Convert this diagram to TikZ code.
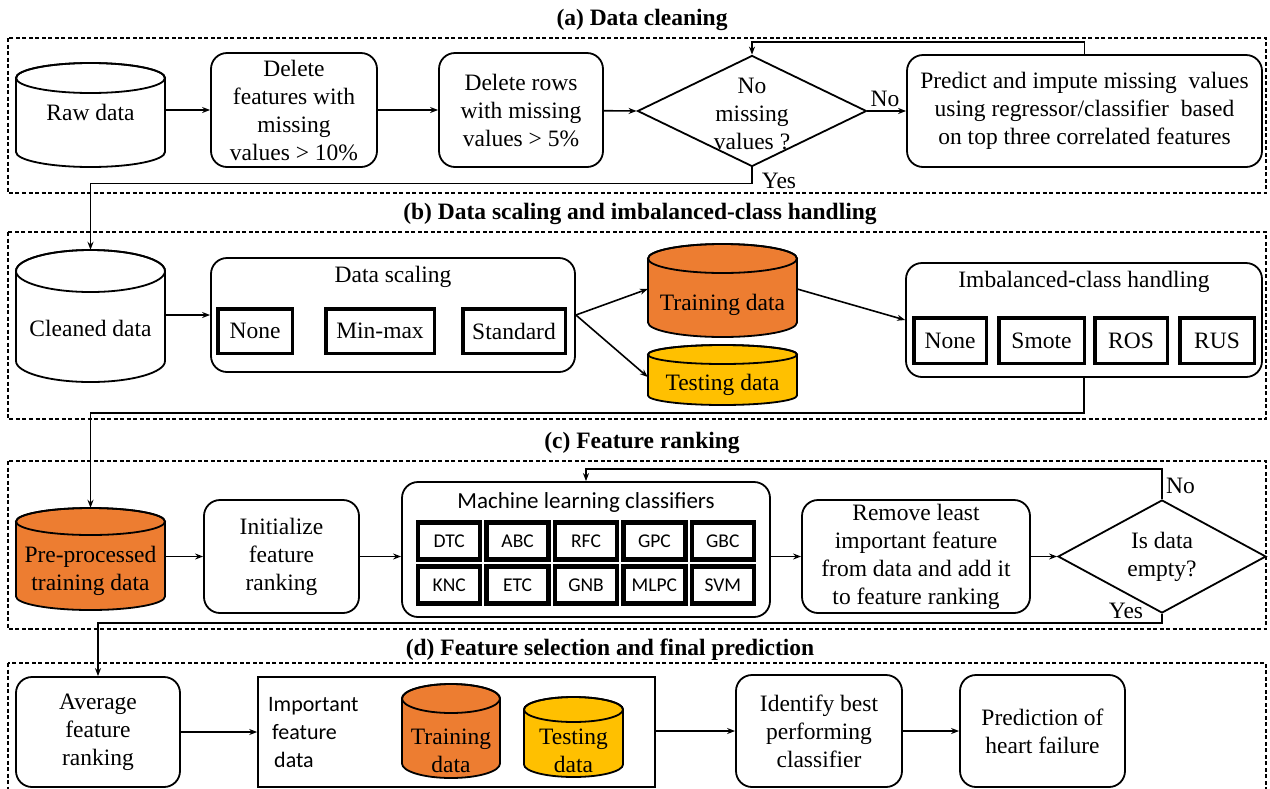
\documentclass[tikz,border=0pt]{standalone}
\usepackage{fontspec}
\setmainfont{Liberation Serif}
\newfontfamily\tnrfont{Liberation Serif}
\newfontfamily\calfont{Carlito}
\usetikzlibrary{shapes.geometric,arrows.meta,calc}
\newcommand\bodyfont{\tnrfont\fontsize{23.5}{28}\selectfont}
\newcommand\titlefont{\tnrfont\fontsize{23.5}{28}\selectfont\bfseries}
\newcommand\cellfont{\calfont\fontsize{19.5}{22}\selectfont}
\definecolor{trainor}{HTML}{ED7D31}
\definecolor{testyel}{HTML}{FFC000}
% name, x1, y1, x2, y2, ry, fill, text, text-y
\newcommand{\cyl}[9]{%
  \pgfmathsetmacro\cylrx{(#4-#2)/2}%
  \pgfmathsetmacro\cylcx{(#2+#4)/2}%
  \pgfmathsetmacro\cylta{#3+#6}%
  \pgfmathsetmacro\cylbb{#5-#6}%
  \filldraw[cylline, fill=#7] (#2,\cylta) -- (#2,\cylbb)
     arc[start angle=180, end angle=0, x radius=\cylrx, y radius=#6]
     -- (#4,\cylta)
     arc[start angle=0, end angle=-180, x radius=\cylrx, y radius=#6] -- cycle;
  \draw[cylline] (\cylcx,\cylta) ellipse[x radius=\cylrx, y radius=#6];
  \node[inner sep=0, minimum width=#4-#2, minimum height=#5-#3] (#1) at (\cylcx,{(#3+#5)/2}) {};
  \node[txt] (#1t) at (\cylcx,#9) {#8};
}
\begin{document}
\begin{tikzpicture}[x=1pt,y=-1pt,
  txt/.style={align=center, font=\bodyfont, inner sep=0},
  rbox/.style={draw, rounded corners=16, line width=1.8, align=center, inner sep=2, font=\bodyfont, fill=white},
  tbox/.style={draw, line width=3.5, align=center, inner sep=0, font=\bodyfont},
  cell/.style={draw, line width=4.5, inner sep=0, minimum width=62, minimum height=37, font=\cellfont},
  dia/.style={draw, diamond, line width=1.8, inner sep=0},
  frame/.style={draw, line width=1.1, dash pattern=on 4pt off 2.5pt},
  ttl/.style={font=\titlefont, inner sep=0},
  lbl/.style={font=\bodyfont, inner sep=0},
  cylline/.style={line width=1.8},
  arr/.style={line width=1.6, -{Stealth[length=8pt,width=6pt]}}
]
\useasboundingbox (0,0) rectangle (1270,788);

% ---------- section frames and titles ----------
\draw[frame] (8,38) rectangle (1266,193);
\draw[frame] (8,232) rectangle (1266,419);
\draw[frame] (8,461) rectangle (1266,629);
\draw[frame] (8,663) rectangle (1266,800);
\node[ttl] (tA) at (642,20) {(a) Data cleaning};
\node[ttl] (tB) at (640,214) {(b) Data scaling and imbalanced-class handling};
\node[ttl] (tC) at (642,443) {(c) Feature ranking};
\node[ttl] (tD) at (610,650) {(d) Feature selection and final prediction};

% ---------- (a) ----------
\cyl{raw}{16}{63}{165}{167}{15}{white}{Raw data}{112}
\node[rbox, minimum width=166, minimum height=114] (delfeat) at (294,110) {Delete\\features with\\missing\\values > 10\%};
\node[rbox, minimum width=164, minimum height=114] (delrows) at (521,110) {Delete rows\\with missing\\values > 5\%};
\node[dia, minimum width=229, minimum height=111] (dia1) at (752,111) {};
\node[txt] (dia1t) at (752,114) {No\\missing\\values ?};
\node[rbox, minimum width=355, minimum height=112] (predict) at (1084.5,111) {Predict and impute missing\ \ values\\using regressor/classifier\ \ based\\on top three correlated features};
\node[lbl] (noA) at (885,99) {No};
\node[lbl] (yesA) at (779,181) {Yes};

% ---------- (b) ----------
\cyl{clean}{16}{250}{165}{382}{21}{white}{Cleaned data}{328}
\node[rbox, minimum width=364, minimum height=114] (scaling) at (393,315) {};
\node[lbl, anchor=base] (scalingt) at (393,282) {Data scaling};
\node[tbox, minimum width=74.5, minimum height=44.5] (sNone) at (255,331) {None};
\node[tbox, minimum width=108.5, minimum height=44.5] (sMin) at (380,331) {Min-max};
\node[tbox, minimum width=102.5, minimum height=44.5] (sStd) at (514,331) {Standard};
\cyl{train}{648}{244}{797}{337}{14.5}{trainor}{Training data}{305}
\cyl{test}{648}{345}{797}{405}{9.5}{testyel}{Testing data}{385}
\node[rbox, minimum width=356, minimum height=114] (imb) at (1084,320) {};
\node[lbl, anchor=base] (imbt) at (1084,287) {Imbalanced-class handling};
\node[tbox, minimum width=72.5, minimum height=45.5] (iNone) at (950,340.5) {None};
\node[tbox, minimum width=85.5, minimum height=45.5] (iSmote) at (1041.5,340.5) {Smote};
\node[tbox, minimum width=72.5, minimum height=45.5] (iROS) at (1131,340.5) {ROS};
\node[tbox, minimum width=74.5, minimum height=45.5] (iRUS) at (1217,340.5) {RUS};

% ---------- (c) ----------
\cyl{pre}{16}{508}{165}{610}{13.5}{trainor}{Pre-processed\\training data}{571}
\node[rbox, minimum width=155, minimum height=113] (init) at (281.5,556.5) {Initialize\\feature\\ranking};
\node[rbox, minimum width=368, minimum height=135] (ml) at (586,549.5) {};
\node[anchor=base, inner sep=0, font=\calfont\fontsize{23}{27}\selectfont] (mlt) at (586,508) {Machine learning classifiers};
\node[cell] (c11) at (449.2,541) {DTC};
\node[cell] (c12) at (517.6,541) {ABC};
\node[cell] (c13) at (586,541) {RFC};
\node[cell] (c14) at (654.4,541) {GPC};
\node[cell] (c15) at (722.8,541) {GBC};
\node[cell] (c21) at (449.2,585) {KNC};
\node[cell] (c22) at (517.6,585) {ETC};
\node[cell] (c23) at (586,585) {GNB};
\node[cell] (c24) at (654.4,585) {MLPC};
\node[cell] (c25) at (722.8,585) {SVM};
\node[rbox, minimum width=228, minimum height=113] (remove) at (916,556.5) {Remove least\\important feature\\from data and add it\\to feature ranking};
\node[dia, minimum width=208, minimum height=113] (dia2) at (1162,556.5) {};
\node[txt] (dia2t) at (1162,557) {Is data\\empty?};
\node[lbl, anchor=west] (noC) at (1166,486) {No};
\node[lbl] (yesC) at (1126,611) {Yes};

% ---------- (d) ----------
\node[rbox, minimum width=164, minimum height=110] (avg) at (98,732) {Average\\feature\\ranking};
\node[draw, line width=1.6, minimum width=397, minimum height=110, inner sep=0] (imp) at (456.5,732) {};
\node[anchor=west, align=left, inner sep=0, font=\calfont\fontsize{22}{28}\selectfont] (impt) at (268,733) {Important\\[0pt]\hspace*{4pt}feature\\[0pt]\hspace*{6pt}data};
\cyl{train2}{402}{684}{500}{778}{14.5}{trainor}{Training\\data}{751}
\cyl{test2}{524}{697}{623}{777}{12.5}{testyel}{Testing\\data}{751}
\node[rbox, minimum width=166, minimum height=112] (ident) at (819,731) {Identify best\\performing\\classifier};
\node[rbox, minimum width=165, minimum height=112] (pred) at (1042.5,731) {Prediction of\\heart failure};

% ---------- connectors ----------
\draw[arr] (raw.east |- delfeat) -- (delfeat);
\draw[arr] (delfeat) -- (delrows);
\draw[arr] (delrows) -- (dia1.west);
\draw[arr] (dia1.east) -- (predict.west |- dia1.east);
\draw[arr] (predict.north) -- ++(0,-12) -| (dia1.north);
\draw[arr] (dia1.south) -- ++(0,16) -| (clean.north);

\draw[arr] (clean.east |- scaling) -- (scaling);
\draw[arr] (scaling.east) -- ([yshift=1.5]train.west);
\draw[arr] (scaling.east) -- ([yshift=-2]test.west);
\draw[arr] ([yshift=1.5]train.east) -- (imb.west);
\draw[arr] (imb.south) -- ++(0,35) -| (pre.north);

\draw[arr] (pre.east |- init) -- (init);
\draw[arr] (init.east) -- (init.east -| ml.west);
\draw[arr] (ml.east |- remove) -- (remove);
\draw[arr] (remove) -- (dia2.west);
\draw[arr] (dia2.north) -- ++(0,-30) -| (ml.north);
\draw[arr] (dia2.south) -- ++(0,9) -| (avg.north);

\draw[arr] (avg) -- (avg -| imp.west);
\draw[arr] (imp.east |- ident) -- (ident);
\draw[arr] (ident) -- (pred);
\end{tikzpicture}
\end{document}
